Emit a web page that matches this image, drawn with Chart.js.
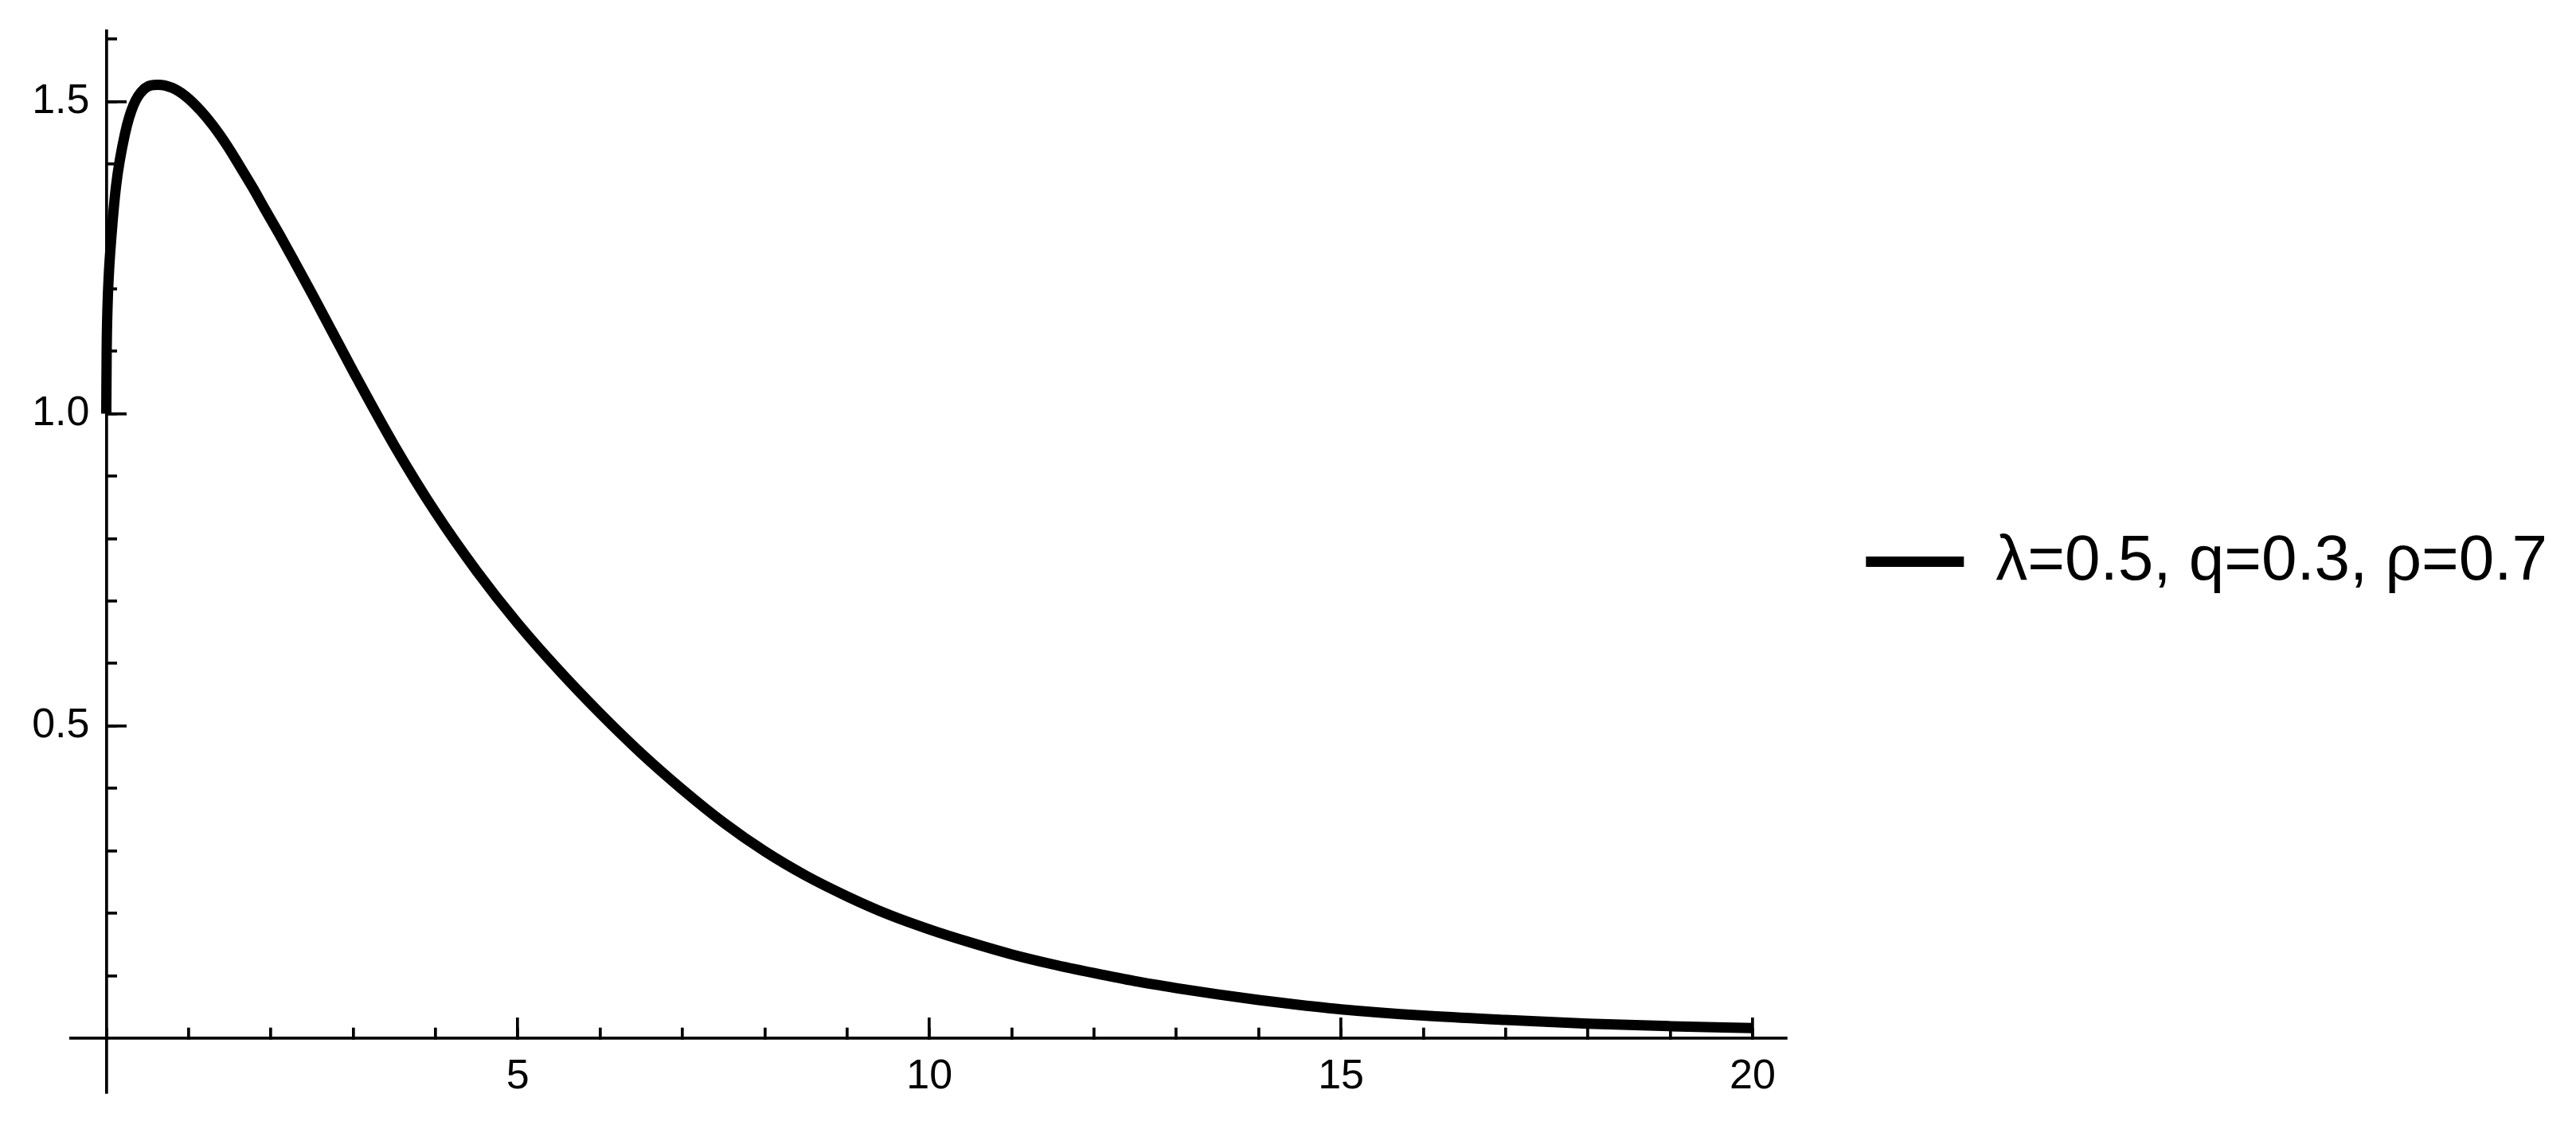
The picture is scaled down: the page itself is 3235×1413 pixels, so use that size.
<!DOCTYPE html>
<html>
<head>
<meta charset="utf-8">
<script src="https://cdn.jsdelivr.net/npm/chart.js@4.4.1/dist/chart.umd.min.js"></script>
<style>
  html, body { margin: 0; padding: 0; background: #ffffff; }
  #wrap { width: 3235px; height: 1413px; position: relative; }
</style>
</head>
<body>
<div id="wrap"><canvas id="c"></canvas></div>
<script>
// ---- data ----
const seriesLabel = 'λ=0.5, q=0.3, ρ=0.7';
const xValues = [0, 0.005, 0.015, 0.03, 0.06, 0.12, 0.23, 0.33, 0.45, 0.63, 0.8, 0.97, 1.15, 1.3, 1.47, 1.62, 1.78, 1.93, 2.1, 2.26, 2.5, 3, 3.5, 4, 4.5, 5, 5.5, 6, 6.5, 7, 7.5, 8, 8.5, 9, 9.5, 10, 10.5, 11, 11.5, 12, 12.5, 13, 13.5, 14, 14.5, 15, 16, 17, 18, 19, 20];
const yValues = [1.0, 1.1, 1.17, 1.22, 1.28, 1.366, 1.45, 1.494, 1.519, 1.527, 1.522, 1.508, 1.485, 1.461, 1.429, 1.397, 1.362, 1.327, 1.288, 1.25, 1.192, 1.068, 0.949, 0.842, 0.748, 0.664, 0.589, 0.52, 0.456, 0.398, 0.345, 0.299, 0.26, 0.227, 0.198, 0.174, 0.153, 0.134, 0.118, 0.104, 0.091, 0.08, 0.07, 0.061, 0.053, 0.046, 0.036, 0.029, 0.023, 0.019, 0.016];

const xMinorTicks = [0, 1, 2, 3, 4, 5, 6, 7, 8, 9, 10, 11, 12, 13, 14, 15, 16, 17, 18, 19, 20];
const xMajorTicks = [5, 10, 15, 20];
const xTickLabels = ['5', '10', '15', '20'];
const yMinorTicks = [0.1, 0.2, 0.3, 0.4, 0.5, 0.6, 0.7, 0.8, 0.9, 1.0, 1.1, 1.2, 1.3, 1.4, 1.5, 1.6];
const yMajorTicks = [0.5, 1.0, 1.5];
const yTickLabels = ['0.5', '1.0', '1.5'];

// ---- styling ----
const FONT = "'Liberation Sans', Arial, Helvetica, sans-serif";
const AXIS_W = 3.7;
const xRange = { min: -0.43, max: 20.41 };
const yRange = { min: -0.087, max: 1.613 };

const points = xValues.map((x, i) => ({ x: x, y: yValues[i] }));

function tickAxis(axis, range, posObj, ticksArr, tickLen, showBorder) {
  return {
    type: 'linear',
    axis: axis,
    min: range.min,
    max: range.max,
    position: posObj,
    border: { display: showBorder, color: '#000', width: AXIS_W },
    grid: { display: true, drawOnChartArea: false, drawTicks: true, tickLength: tickLen, tickWidth: AXIS_W, tickColor: '#000', color: '#000', lineWidth: AXIS_W },
    ticks: { display: false, includeBounds: false },
    afterBuildTicks: (s) => { s.ticks = ticksArr.map(v => ({ value: v })); }
  };
}

const scales = {
  x: tickAxis('x', xRange, { y: 0 }, xMinorTicks, -15, true),
  y: tickAxis('y', yRange, { x: 0 }, yMinorTicks, -15, true),
  xMaj: tickAxis('x', xRange, { y: 0 }, xMajorTicks, -26, false),
  yMaj: tickAxis('y', yRange, { x: 0 }, yMajorTicks, -26, false),
  yLab: {
    type: 'linear', axis: 'y', min: yRange.min, max: yRange.max,
    position: { x: -0.203 },
    border: { display: false },
    grid: { display: false, drawTicks: false },
    ticks: { display: true, includeBounds: false, color: '#000', font: { family: FONT, size: 52 },
             callback: (v, i) => yTickLabels[i] },
    afterBuildTicks: (s) => { s.ticks = yMajorTicks.map(v => ({ value: v })); }
  }
};
scales.xMaj.ticks = { display: true, includeBounds: false, color: '#000', padding: 44, maxRotation: 0,
                      font: { family: FONT, size: 52 }, callback: (v, i) => xTickLabels[i] };

new Chart(document.getElementById('c'), {
  type: 'line',
  data: {
    datasets: [{
      label: seriesLabel,
      data: points,
      borderColor: '#000',
      backgroundColor: '#000',
      borderWidth: 13,
      pointRadius: 0,
      fill: false,
      cubicInterpolationMode: 'monotone',
      xAxisID: 'x',
      yAxisID: 'y'
    }]
  },
  options: {
    responsive: true,
    maintainAspectRatio: false,
    devicePixelRatio: 1,
    animation: false,
    events: [],
    layout: { padding: { left: 89, top: 39, bottom: 41, right: 26 } },
    scales: scales,
    plugins: {
      tooltip: { enabled: false },
      title: { display: false },
      legend: {
        display: true,
        position: 'right',
        align: 'center',
        maxWidth: 1500,
        labels: {
          boxWidth: 123,
          boxHeight: 13,
          padding: 100,
          color: '#000',
          font: { family: FONT, size: 80 },
          generateLabels: () => [{ text: seriesLabel, fillStyle: '#000', strokeStyle: '#000', lineWidth: 0, hidden: false, datasetIndex: 0, fontColor: '#000' }]
        }
      }
    }
  }
});
</script>
</body>
</html>
